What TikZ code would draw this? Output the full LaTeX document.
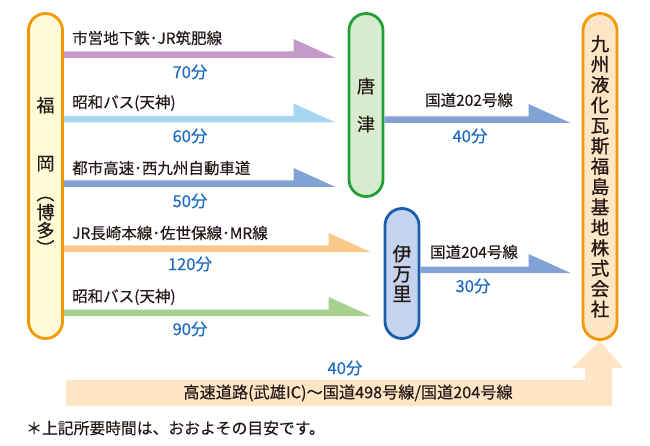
\documentclass[tikz,border=0pt]{standalone}
\usepackage{fontspec}
\setmainfont{Noto Sans CJK JP}[FakeBold=0.25]
\newfontfamily\boldish{Noto Sans CJK JP}[FakeBold=0.9]
\usetikzlibrary{calc, positioning}

\definecolor{fukOrange}{HTML}{F39800}
\definecolor{fukYellow}{HTML}{FFFBD6}
\definecolor{comPeach}{HTML}{FDE5C5}
\definecolor{karLine}{HTML}{22A038}
\definecolor{karFill}{HTML}{D8EBCE}
\definecolor{imaLine}{HTML}{1B5CAB}
\definecolor{imaFill}{HTML}{C5D4EE}
\definecolor{arPurple}{HTML}{C49AC8}
\definecolor{arSky}{HTML}{A5D6F2}
\definecolor{arSteel}{HTML}{82A2D5}
\definecolor{arOrange}{HTML}{FAC98A}
\definecolor{arGreen}{HTML}{A8D08E}
\definecolor{timeBlue}{HTML}{1E6BBE}
\definecolor{labelGray}{HTML}{231815}

\begin{document}
\begin{tikzpicture}[x=1pt, y=-1pt,
    station/.style={rectangle, draw, line width=2.8pt, rounded corners=17pt, minimum width=34pt, align=center, inner sep=0pt, text=labelGray},
    route/.style={font=\fontsize{15.5}{17}\selectfont, text=labelGray, anchor=west, inner sep=0pt},
    time/.style={font=\fontsize{16.5}{18}\selectfont, text=timeBlue, inner sep=0pt},
    flow/.style={to path={-- (\tikztotarget) -- ++(-42,-19) -- ++(0,12.5) -- ($(\tikztostart)+(0,-6.5)$) -- cycle}}
]
\useasboundingbox (0,0) rectangle (650,446);

% Stations
\node[station, draw=fukOrange, fill=fukYellow, minimum height=325pt,
      font=\fontsize{18}{18}\selectfont] (fuk) at (45.5,176)
  {福\\[40pt]岡\\[12pt]︵\\[1pt]博\\多\\[0pt]︶};
\node[station, draw=karLine, fill=karFill, minimum height=183pt,
      font=\fontsize{18}{18}\selectfont] (kar) at (366,105) {唐\\[20pt]津};
\node[station, draw=imaLine, fill=imaFill, minimum height=130pt,
      font=\boldish\fontsize{19}{20}\selectfont] (ima) at (402,273.5) {伊\\万\\里};
\node[station, draw=fukOrange, fill=comPeach, minimum height=326pt,
      font=\boldish\fontsize{18.5}{20.4}\selectfont] (comp) at (600,176.5)
  {九\\州\\液\\化\\瓦\\斯\\福\\島\\基\\地\\株\\式\\会\\社};

% Arrow ends
\coordinate (s1) at (fuk.east |- 0,58);
\coordinate (e1) at ($(kar.west |- 0,58)+(-12,0)$);
\coordinate (s2) at (fuk.east |- 0,122.5);
\coordinate (e2) at ($(kar.west |- 0,122.5)+(-12,0)$);
\coordinate (s3) at (fuk.east |- 0,187);
\coordinate (e3) at ($(kar.west |- 0,187)+(-12,0)$);
\coordinate (s4) at (fuk.east |- 0,252);
\coordinate (e4) at ($(ima.west |- 0,252)+(-13,0)$);
\coordinate (s5) at (fuk.east |- 0,316);
\coordinate (e5) at ($(ima.west |- 0,316)+(-13,0)$);
\coordinate (s6) at (kar.east |- 0,123);
\coordinate (e6) at ($(comp.west |- 0,123)+(-11,0)$);
\coordinate (s7) at (ima.east |- 0,273);
\coordinate (e7) at ($(comp.west |- 0,273)+(-11,0)$);

% Arrows
\fill[arPurple, flow] (s1) to (e1);
\fill[arSky, flow] (s2) to (e2);
\fill[arSteel, flow] (s3) to (e3);
\fill[arOrange, flow] (s4) to (e4);
\fill[arGreen, flow] (s5) to (e5);
\fill[arSteel, flow] (s6) to (e6);
\fill[arSteel, flow] (s7) to (e7);

% Expressway
\coordinate (b0) at (66,406);
\fill[comPeach] (b0) -- (66,380) -- (585,380) -- (585,368) -- (572,368)
  -- (comp.south) -- (623,368) -- (612,368) -- (612,406) -- cycle;

% Route labels
\node[route] (r1) at (72,38) {市営地下鉄･JR筑肥線};
\node[route] (r2) at (72,103) {昭和バス(天神)};
\node[route] (r3) at (72,168) {都市高速･西九州自動車道};
\node[route] (r4) at (72,233) {JR長崎本線･佐世保線･MR線};
\node[route] (r5) at (72,297) {昭和バス(天神)};
\node[route, anchor=center] (r6) at (469,100) {国道202号線};
\node[route, anchor=center] (r7) at (474,252) {国道204号線};
\node[route, anchor=center, font=\fontsize{16.2}{17}\selectfont] (r8) at (348,393) {高速道路(武雄IC)～国道498号線/国道204号線};

% Times
\node[time] (t1) at (190,72) {70分};
\node[time] (t2) at (190,136) {60分};
\node[time] (t3) at (190,201) {50分};
\node[time] (t4) at (190,264) {120分};
\node[time] (t5) at (190,329) {90分};
\node[time] (t6) at (470,136) {40分};
\node[time] (t7) at (473,286) {30分};
\node[time] (t8) at (345,368) {40分};

% Note
\node[route, font=\fontsize{15.8}{17}\selectfont] (note) at (26,428) {＊上記所要時間は、おおよその目安です。};
\end{tikzpicture}
\end{document}
